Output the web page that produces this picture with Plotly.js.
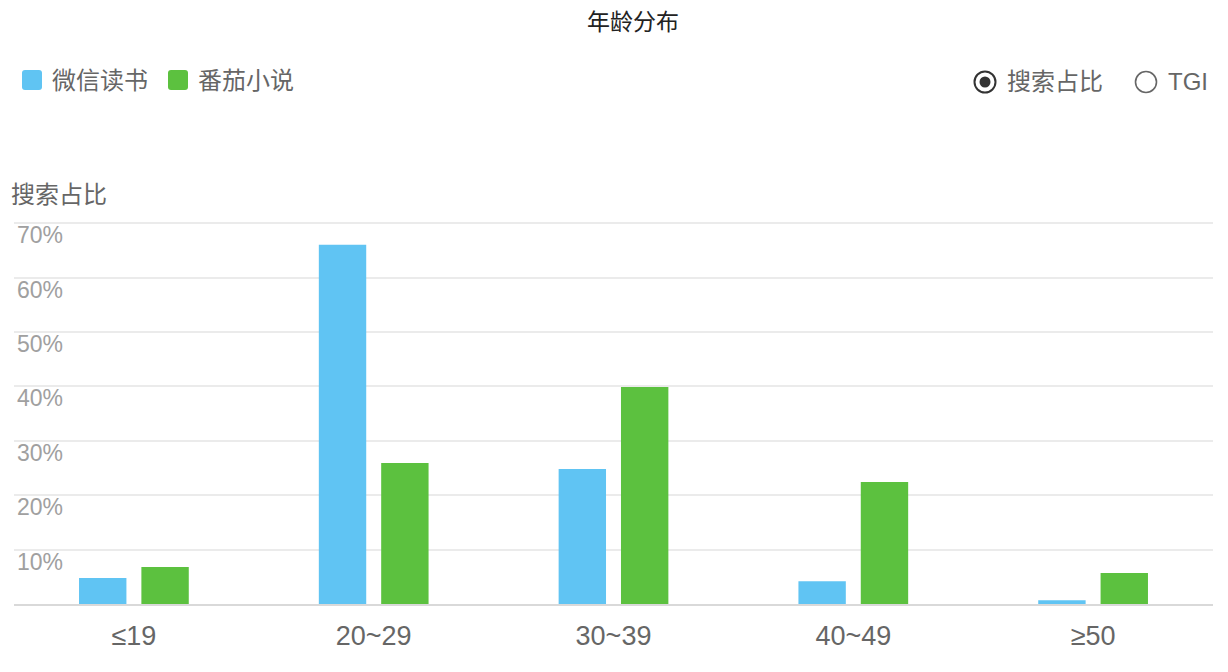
<!DOCTYPE html>
<html>
<head>
<meta charset="utf-8">
<script src="https://cdn.plot.ly/plotly-3.0.1.min.js"></script>
<style>
  html, body { margin: 0; padding: 0; background: #fff; }
  #chart { width: 1228px; height: 672px; }
</style>
</head>
<body>
<div id="chart"></div>
<script>
// ---- data ----
const categories = ['≤19', '20~29', '30~39', '40~49', '≥50'];
const seriesNames = ['微信读书', '番茄小说'];
const weread = [4.8, 66.0, 24.8, 4.2, 0.7];
const fanqie = [6.8, 25.9, 39.9, 22.4, 5.7];
const yTickVals = [10, 20, 30, 40, 50, 60, 70];
const yTickText = ['10%', '20%', '30%', '40%', '50%', '60%', '70%'];
const chartTitle = '年龄分布';
const yTitle = '搜索占比';
const radioLabels = ['搜索占比', 'TGI'];

const colors = ['#60C4F3', '#5CC13F'];
const FONT = '"Liberation Sans", "Noto Sans CJK SC", sans-serif';

const traces = [weread, fanqie].map((vals, i) => ({
  type: 'bar',
  name: seriesNames[i],
  x: categories,
  y: vals,
  marker: { color: colors[i] },
  showlegend: false,
  hovertemplate: '%{x}: %{y}%<extra>' + seriesNames[i] + '</extra>'
}));

// plot area geometry (pixels)
const W = 1228, H = 672;
const M = { l: 14, r: 15, t: 222, b: 68 };
const PW = W - M.l - M.r, PH = H - M.t - M.b;
const px = v => (v - M.l) / PW;        // figure pixel x -> paper x
const py = v => (H - M.b - v) / PH;    // figure pixel y -> paper y

function roundRect(w, h, r) {
  return `M ${r},0 L ${w - r},0 Q ${w},0 ${w},${-r} L ${w},${-(h - r)} Q ${w},${-h} ${w - r},${-h} ` +
         `L ${r},${-h} Q 0,${-h} 0,${-(h - r)} L 0,${-r} Q 0,0 ${r},0 Z`;
}
const shapes = [];
const annotations = [];
const legendX = [22, 168];
seriesNames.forEach((n, i) => {
  shapes.push({
    type: 'path', xref: 'paper', yref: 'paper', xsizemode: 'pixel', ysizemode: 'pixel',
    xanchor: px(legendX[i]), yanchor: py(70),
    path: roundRect(20, 20, 3),
    fillcolor: colors[i], line: { width: 0 }
  });
  annotations.push({
    xref: 'paper', yref: 'paper', x: px(legendX[i] + 28), y: py(80),
    xanchor: 'left', yanchor: 'middle', showarrow: false,
    text: n, font: { family: FONT, size: 24, color: '#666666' }
  });
});
const radioX = [985, 1146];
radioX.forEach((cx, i) => {
  shapes.push({
    type: 'circle', xref: 'paper', yref: 'paper', xsizemode: 'pixel', ysizemode: 'pixel',
    xanchor: px(cx), yanchor: py(82),
    x0: -10.5, x1: 10.5, y0: -10.5, y1: 10.5,
    fillcolor: 'rgba(0,0,0,0)', line: { color: i === 0 ? '#333333' : '#666666', width: i === 0 ? 2 : 1.6 }
  });
  annotations.push({
    xref: 'paper', yref: 'paper', x: px(cx + 20), y: py(82),
    xanchor: 'left', yanchor: 'middle', showarrow: false,
    text: radioLabels[i], font: { family: FONT, size: 24, color: '#666666' }
  });
});
shapes.push({
  type: 'circle', xref: 'paper', yref: 'paper', xsizemode: 'pixel', ysizemode: 'pixel',
  xanchor: px(985), yanchor: py(82),
  x0: -5.5, x1: 5.5, y0: -5.5, y1: 5.5,
  fillcolor: '#333333', line: { width: 0 }
});
annotations.push({
  xref: 'paper', yref: 'paper', x: px(9), y: py(194),
  xanchor: 'left', yanchor: 'middle', showarrow: false,
  text: yTitle, font: { family: FONT, size: 24, color: '#666666' }
});

const layout = {
  width: W, height: H,
  paper_bgcolor: '#ffffff', plot_bgcolor: '#ffffff',
  font: { family: FONT },
  title: {
    text: chartTitle, x: 633 / W, xanchor: 'center', y: 1 - 22 / H, yanchor: 'middle',
    font: { family: FONT, size: 23, color: '#222222' }
  },
  margin: M,
  barmode: 'group',
  bargap: 0.48,
  bargroupgap: 0.24,
  xaxis: {
    type: 'category',
    range: [-0.5, categories.length - 0.5],
    showgrid: false, zeroline: false,
    showline: true, linecolor: '#d9d9d9', linewidth: 2,
    ticks: '', tickfont: { family: FONT, size: 27, color: '#666666' },
    ticklabelstandoff: 7
  },
  yaxis: {
    range: [0, 70.2],
    tickvals: yTickVals, ticktext: yTickText,
    showgrid: true, gridcolor: '#ebebeb', gridwidth: 1.5,
    zeroline: false, showline: false,
    ticks: '',
    ticklabelposition: 'inside',
    ticklabelshift: 12,
    tickfont: { family: FONT, size: 23, color: '#a0a0a0' }
  },
  shapes: shapes,
  annotations: annotations,
  showlegend: false
};

Plotly.newPlot('chart', traces, layout, { displayModeBar: false });
</script>
</body>
</html>
